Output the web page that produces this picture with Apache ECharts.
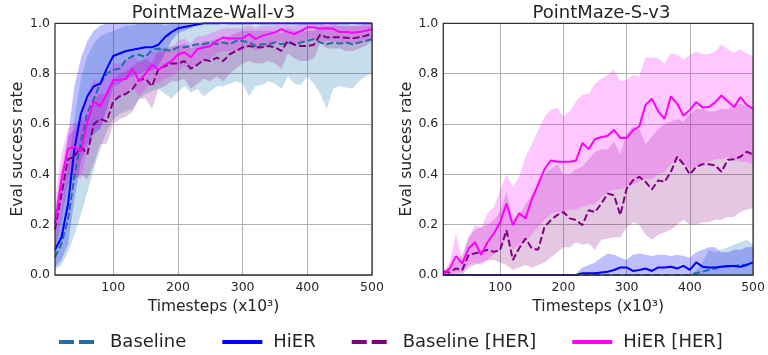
<!DOCTYPE html>
<html><head><meta charset="utf-8">
<script src="https://cdn.jsdelivr.net/npm/echarts@6/dist/echarts.min.js"></script>
<style>html,body{margin:0;padding:0;background:#fff}#c{width:768px;height:355px}</style>
</head><body><div id="c"></div>
<script>
// ---------- DATA ----------
const steps = [10,20,30,40,50,60,70,80,90,100,110,120,130,140,150,160,170,180,190,200,
  210,220,230,240,250,260,270,280,290,300,310,320,330,340,350,360,370,380,390,400,
  410,420,430,440,450,460,470,480,490,500];
const xTickValues = [100,200,300,400,500];
const seriesNames = ['Baseline','HiER','Baseline [HER]','HiER [HER]'];
const panelTitles = ['PointMaze-Wall-v3','PointMaze-S-v3'];

// PointMaze-Wall-v3 means
const wallBaseline = [.07,.125,.22,.39,.53,.645,.70,.76,.80,.815,
 .82,.855,.87,.875,.866,.895,.90,.895,.89,.905,
 .905,.91,.917,.917,.924,.917,.924,.917,.93,.93,
 .924,.91,.917,.917,.924,.917,.924,.917,.924,.93,
 .937,.924,.917,.924,.92,.924,.917,.924,.93,.937];
const wallHiER = [.10,.15,.28,.50,.64,.71,.75,.76,.82,.87,
 .88,.89,.895,.90,.905,.905,.915,.945,.965,.98,
 .985,.99,.995,1,1,1,1,1,1,1,
 1,1,1,1,1,1,1,1,1,1,
 1,1,1,1,1,1,1,1,1,1];
const wallBaselineHER = [.18,.32,.46,.47,.51,.48,.60,.62,.61,.69,
 .71,.72,.74,.775,.78,.75,.82,.83,.84,.84,
 .85,.82,.835,.855,.85,.864,.85,.877,.89,.904,
 .91,.905,.905,.91,.905,.89,.93,.915,.91,.91,
 .915,.955,.944,.945,.945,.943,.94,.945,.95,.96];
const wallHiERHER = [.20,.38,.50,.51,.49,.61,.69,.67,.72,.775,
 .775,.78,.82,.77,.80,.835,.815,.835,.85,.875,
 .885,.865,.897,.904,.91,.93,.944,.94,.94,.94,
 .957,.937,.95,.957,.964,.977,.965,.957,.97,.984,
 .984,.978,.98,.978,.965,.965,.962,.965,.97,.977];
// PointMaze-Wall-v3 bands
const wallBaselineLo = [.02,.04,.09,.16,.24,.33,.42,.50,.57,.62,
 .64,.65,.66,.70,.72,.73,.74,.72,.70,.728,
 .75,.725,.74,.71,.73,.75,.75,.76,.77,.76,
 .71,.75,.755,.77,.76,.74,.79,.76,.755,.79,
 .76,.72,.66,.74,.75,.745,.74,.77,.79,.80];
const wallBaselineHi = [.13,.25,.42,.62,.78,.87,.92,.95,.96,.97,
 .98,.99,.99,1,1,1,1,.99,1,1,
 1,1,.99,1,1,1,.99,1,1,1,
 1,.99,1,1,1,.99,1,1,1,1,
 1,1,.99,1,1,1,.99,1,1,1];
const wallHiERLo = [.03,.06,.12,.30,.45,.52,.56,.58,.66,.75,
 .76,.78,.79,.80,.81,.81,.83,.88,.93,.96,
 .97,.98,.995,1,1,1,1,1,1,1,
 1,1,1,1,1,1,1,1,1,1,
 1,1,1,1,1,1,1,1,1,1];
const wallHiERHi = [.20,.35,.55,.75,.86,.93,.97,.99,1,1,
 1,1,1,1,1,1,1,1,1,1,
 1,1,1,1,1,1,1,1,1,1,
 1,1,1,1,1,1,1,1,1,1,
 1,1,1,1,1,1,1,1,1,1];
const wallBaselineHERLo = [.10,.22,.36,.38,.40,.38,.44,.52,.52,.60,
 .62,.63,.65,.70,.70,.66,.74,.75,.77,.77,
 .78,.74,.76,.78,.77,.79,.77,.80,.82,.84,
 .85,.84,.84,.85,.84,.82,.88,.86,.85,.85,
 .86,.92,.90,.90,.90,.89,.89,.90,.91,.93];
const wallBaselineHERHi = [.26,.42,.55,.58,.62,.60,.70,.72,.72,.78,
 .80,.81,.83,.85,.86,.84,.90,.90,.91,.91,
 .92,.90,.91,.93,.93,.94,.93,.95,.96,.97,
 .97,.97,.97,.97,.97,.96,.98,.97,.97,.97,
 .97,.99,.99,.99,.99,.99,.99,.99,.99,.99];
const wallHiERHERLo = [.12,.26,.40,.40,.38,.50,.58,.58,.64,.70,
 .71,.72,.75,.71,.74,.77,.76,.78,.79,.81,
 .83,.81,.84,.85,.86,.88,.89,.89,.89,.89,
 .91,.89,.90,.91,.92,.93,.92,.91,.92,.94,
 .94,.93,.93,.93,.92,.92,.92,.92,.93,.94];
const wallHiERHERHi = [.30,.48,.58,.60,.62,.72,.78,.76,.80,.84,
 .84,.85,.88,.84,.86,.89,.88,.89,.90,.93,
 .94,.92,.95,.95,.96,.97,.98,.98,.98,.98,
 .99,.98,.99,.99,.99,1,.99,.99,1,1,
 1,1,1,1,.99,.99,.99,.99,1,1];

// PointMaze-S-v3 means
const sBaseline = [0,0,0,0,0,0,0,0,0,0,
 0,0,0,0,0,0,0,0,0,0,
 0,0,0,0,0,0,0,0,0,0,
 0,0,0,0,0,0,0,0,0,0,
 .007,.013,.02,.026,.033,.033,.036,.04,.042,.046];
const sHiER = [0,0,0,0,0,0,0,0,0,0,
 0,0,0,0,0,0,0,0,0,0,
 0,0,.007,.007,.007,.01,.013,.02,.03,.03,
 .016,.02,.026,.016,.03,.03,.033,.026,.036,.02,
 .05,.033,.03,.03,.033,.036,.036,.033,.04,.05];
const sBaselineHER = [.013,.01,.026,.02,.08,.086,.092,.10,.092,.10,
 .178,.06,.106,.145,.106,.10,.19,.218,.238,.25,
 .225,.218,.198,.257,.25,.284,.324,.317,.238,.343,
 .376,.39,.37,.34,.376,.37,.41,.47,.44,.40,
 .43,.44,.44,.436,.41,.458,.46,.47,.49,.478];
const sHiERHER = [0,.026,.075,.046,.105,.13,.08,.13,.165,.21,
 .284,.198,.245,.225,.30,.36,.42,.455,.45,.45,
 .45,.455,.525,.50,.54,.547,.553,.577,.544,.544,
 .575,.59,.676,.70,.65,.62,.71,.68,.633,.656,
 .687,.666,.667,.686,.713,.69,.667,.707,.676,.66];
// PointMaze-S-v3 bands
const sBaselineLo = [0,0,0,0,0,0,0,0,0,0, 0,0,0,0,0,0,0,0,0,0, 0,0,0,0,0,0,0,0,0,0, 0,0,0,0,0,0,0,0,0,0, 0,0,0,0,0,0,0,0,0,0];
const sBaselineHi = [0,0,0,0,0,0,0,0,0,0,
 0,0,0,0,0,0,0,0,0,0,
 0,0,0,0,0,0,0,0,0,0,
 0,0,0,0,0,0,0,0,0,0,
 .02,.05,.10,.09,.10,.11,.12,.13,.14,.12];
const sHiERLo = [0,0,0,0,0,0,0,0,0,0, 0,0,0,0,0,0,0,0,0,0, 0,0,0,0,0,0,0,0,0,0, 0,0,0,0,0,0,0,0,0,0, 0,0,0,0,0,0,0,0,0,0];
const sHiERHi = [0,0,0,0,0,0,0,0,0,0,
 0,0,0,0,0,0,0,0,0,0,
 0,.005,.03,.04,.05,.07,.085,.08,.07,.06,
 .08,.085,.08,.075,.08,.08,.075,.08,.075,.07,
 .09,.10,.11,.11,.09,.09,.10,.10,.11,.112];
const sBaselineHERLo = [0,0,0,0,.03,.04,.05,.06,.06,.05,
 .04,.02,.03,.04,.03,.04,.05,.07,.09,.11,
 .11,.13,.12,.126,.10,.14,.145,.15,.15,.19,
 .21,.20,.16,.14,.16,.17,.18,.20,.22,.20,
 .20,.21,.21,.22,.22,.23,.23,.25,.26,.264];
const sBaselineHERHi = [.02,.03,.05,.08,.15,.18,.19,.20,.22,.25,
 .33,.22,.24,.28,.32,.36,.40,.42,.44,.40,
 .40,.42,.43,.46,.49,.50,.50,.53,.48,.56,
 .59,.58,.52,.55,.58,.60,.61,.62,.61,.64,
 .66,.66,.65,.65,.66,.66,.67,.68,.67,.655];
const sHiERHERLo = [0,0,.01,.01,.04,.05,.04,.06,.08,.10,
 .15,.10,.12,.13,.16,.19,.22,.24,.25,.25,
 .26,.26,.27,.28,.28,.31,.33,.34,.34,.35,
 .36,.37,.38,.38,.40,.41,.44,.46,.44,.42,
 .43,.44,.45,.46,.46,.47,.46,.45,.45,.44];
const sHiERHERHi = [.013,.05,.165,.06,.15,.20,.19,.245,.27,.337,
 .40,.35,.39,.47,.52,.575,.628,.657,.663,.63,
 .65,.69,.716,.72,.76,.78,.795,.815,.77,.775,
 .795,.79,.864,.864,.86,.84,.88,.875,.855,.875,
 .888,.878,.878,.888,.917,.897,.884,.897,.88,.87];

// ---------- STYLE ----------
const FONT = 'DejaVu Sans';
const TXT = '#262626';
const lineColors = ['#1f6fa3','#0000ff','#800080','#ff00ff'];
const bandColors = ['#1f77b4','#0000ff','#800080','#ff00ff'];
const bandAlpha = [0.25,0.25,0.22,0.22];
const dashed = [true,false,true,false];

const panels = [
  {means:[wallBaseline,wallHiER,wallBaselineHER,wallHiERHER],
   lo:[wallBaselineLo,wallHiERLo,wallBaselineHERLo,wallHiERHERLo],
   hi:[wallBaselineHi,wallHiERHi,wallBaselineHERHi,wallHiERHERHi]},
  {means:[sBaseline,sHiER,sBaselineHER,sHiERHER],
   lo:[sBaselineLo,sHiERLo,sBaselineHERLo,sHiERHERLo],
   hi:[sBaselineHi,sHiERHi,sBaselineHERHi,sHiERHERHi]}
];
const gridPos = [{left:55,width:317},{left:443.3,width:316.4}];
const showTick = (i, v) => xTickValues.indexOf(+v) >= 0;

const series = [];
panels.forEach((p, g) => {
  for (let k = 0; k < 4; k++) {
    const st = 'band' + g + '_' + k;
    series.push({type:'line', name:'_lo'+st, xAxisIndex:g, yAxisIndex:g, stack:st,
      data:p.lo[k], symbol:'none', silent:true, z:1, lineStyle:{opacity:0}});
    series.push({type:'line', name:'_hi'+st, xAxisIndex:g, yAxisIndex:g, stack:st,
      data:p.hi[k].map((v,i)=>+(v - p.lo[k][i]).toFixed(4)), symbol:'none', silent:true, z:1,
      lineStyle:{opacity:0}, areaStyle:{color:bandColors[k], opacity:bandAlpha[k]}});
  }
  for (let k = 0; k < 4; k++) {
    series.push({type:'line', name:seriesNames[k], xAxisIndex:g, yAxisIndex:g,
      data:p.means[k], symbol:'none', showSymbol:false, z:3,
      itemStyle:{color:lineColors[k]},
      lineStyle:{color:lineColors[k], width:2, type: dashed[k] ? [7,3] : 'solid'}});
  }
});

const chart = echarts.init(document.getElementById('c'), null, {renderer:'canvas'});
chart.setOption({
  animation:false,
  textStyle:{fontFamily:FONT},
  title: panelTitles.map((t,g)=>({text:t, left:gridPos[g].left + gridPos[g].width/2, top:4, padding:0,
    textAlign:'center', textStyle:{fontSize:18, fontWeight:'normal', color:TXT, fontFamily:FONT}})),
  grid: gridPos.map(p=>({left:p.left, width:p.width, top:23.3, height:251.7, show:true, z:6,
    borderColor:'#333', borderWidth:1.3, backgroundColor:'transparent', containLabel:false})),
  xAxis: [0,1].map(g=>({type:'category', gridIndex:g, data:steps, boundaryGap:false,
    axisLine:{show:false}, axisTick:{show:false},
    axisLabel:{interval:showTick, fontSize:12.5, color:TXT, margin:6, fontFamily:FONT},
    splitLine:{show:true, interval:showTick, lineStyle:{color:'#b0b0b0', width:1}},
    name:'Timesteps (x10³)', nameLocation:'middle', nameGap:22,
    nameTextStyle:{fontSize:15.5, color:TXT, fontFamily:FONT}})),
  yAxis: [0,1].map(g=>({type:'value', gridIndex:g, min:0, max:1, interval:0.2,
    axisLine:{show:false}, axisTick:{show:false},
    axisLabel:{formatter:v=>v.toFixed(1), fontSize:12.5, color:TXT, margin:5, fontFamily:FONT},
    splitLine:{show:true, lineStyle:{color:'#b0b0b0', width:1}},
    name:'Eval success rate', nameLocation:'middle', nameGap:23,
    nameTextStyle:{fontSize:15.5, color:TXT, fontFamily:FONT}})),
  legend:{left:57, top:333, itemWidth:40, itemHeight:18, itemGap:34, padding:0,
    lineStyle:{width:4}, itemStyle:{opacity:0},
    textStyle:{fontSize:18, color:TXT, fontFamily:FONT, padding:[0,0,0,6]},
    data: seriesNames.map((n,k)=>({name:n, itemStyle:{opacity:0},
      lineStyle:{width:4, type: dashed[k] ? [15,5] : 'solid'}}))},
  series: series
});
</script></body></html>
